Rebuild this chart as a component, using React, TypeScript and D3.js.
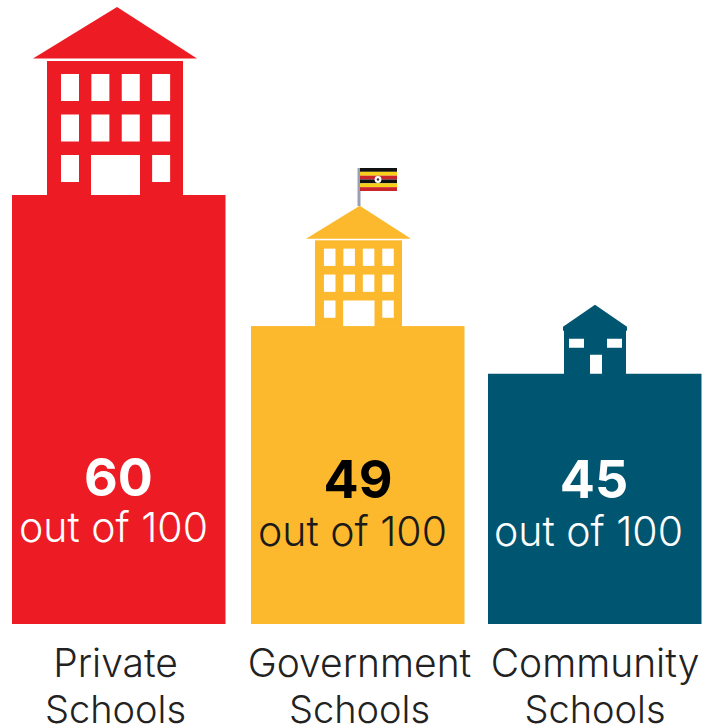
import React, { useEffect, useRef } from "react";
import * as d3 from "d3";

const categories = ["Private", "Government", "Community"];
const scores = [60, 49, 45];
const colors = ["#ED1C24", "#FDB92E", "#005670"];
const scoreColors = ["#ffffff", "#000000", "#ffffff"];
const flagStripes = ["#111111", "#F7D117", "#C9252B", "#111111", "#F7D117", "#C9252B"];

const WIDTH = 703;
const HEIGHT = 728;
const FONT = "Inter, Lato, 'Noto Sans', sans-serif";

const App: React.FC = () => {
  const svgRef = useRef<SVGSVGElement | null>(null);

  useEffect(() => {
    const svg = d3.select(svgRef.current);
    svg.selectAll("*").remove();

    // gaps between the bars are not quite even in the original
    const x = d3.scaleOrdinal<string, number>().domain(categories).range([12, 251, 488]);
    const barWidth = 213.5;
    // bars do not start at zero in the original, baseline sits around 24
    const y = d3.scaleLinear().domain([24, 60]).range([624, 195]);

    const rows = categories.map((name, i) => ({ name, score: scores[i], color: colors[i], scoreColor: scoreColors[i] }));

    svg
      .selectAll("rect.bar")
      .data(rows)
      .enter()
      .append("rect")
      .attr("class", "bar")
      .attr("x", (d) => x(d.name))
      .attr("y", (d) => y(d.score))
      .attr("width", barWidth)
      .attr("height", (d) => y(24) - y(d.score))
      .attr("fill", (d) => d.color);

    // big school icon, drawn at 136 wide and scaled down for government
    const drawSchool = (cx: number, base: number, k: number, color: string) => {
      const g = svg.append("g").attr("transform", `translate(${cx},${base}) scale(${k})`);
      g.append("path").attr("d", "M-82,-136.5L2,-188L82,-136.5Z").attr("fill", color);
      g.append("rect").attr("x", -68).attr("y", -134).attr("width", 136).attr("height", 135).attr("fill", color);
      const cols = d3.scaleBand<number>().domain([0, 1, 2, 3]).range([-54, 67.5]);
      const floors = d3.scaleBand<number>().domain([0, 1, 2]).range([-121, 0.5]);
      const cells = d3.cross([0, 1, 2, 3], [0, 1, 2]).filter(([c, f]) => !(f === 2 && (c === 1 || c === 2)));
      g.selectAll("rect.win")
        .data(cells)
        .enter()
        .append("rect")
        .attr("class", "win")
        .attr("x", ([c]) => cols(c)!)
        .attr("y", ([, f]) => floors(f)!)
        .attr("width", 18)
        .attr("height", 27)
        .attr("fill", "#fff");
      g.append("rect").attr("x", -24).attr("y", -40).attr("width", 49).attr("height", 40).attr("fill", "#fff");
    };

    drawSchool(115, y(60), 1, colors[0]);
    drawSchool(358.5, y(49), 0.64, colors[1]);

    // flag on the government school
    const flag = svg.append("g").attr("transform", "translate(359,168)");
    flag.append("rect").attr("x", -1.5).attr("width", 3).attr("height", 38).attr("fill", "#9AA0B4");
    const stripe = d3.scaleBand<number>().domain(d3.range(flagStripes.length)).range([0, 23]);
    flag
      .selectAll("rect.stripe")
      .data(flagStripes)
      .enter()
      .append("rect")
      .attr("class", "stripe")
      .attr("x", 1)
      .attr("y", (_, i) => stripe(i)!)
      .attr("width", 37)
      .attr("height", stripe.bandwidth())
      .attr("fill", (d) => d);
    flag.append("circle").attr("cx", 19).attr("cy", 11.5).attr("r", 3.4).attr("fill", "#fff");
    flag.append("circle").attr("cx", 19).attr("cy", 11.5).attr("r", 1.2).attr("fill", "#333");

    // small community house
    const house = svg.append("g").attr("transform", `translate(595,${y(45)})`);
    house
      .append("path")
      .attr("d", "M-32,-47L0,-69L32,-47L32,-43L31,-43L31,1L-31,1L-31,-43L-32,-43Z")
      .attr("fill", colors[2]);
    house.append("rect").attr("x", -26).attr("y", -35).attr("width", 15).attr("height", 9).attr("fill", "#fff");
    house.append("rect").attr("x", 12).attr("y", -35).attr("width", 15).attr("height", 9).attr("fill", "#fff");
    house.append("rect").attr("x", -5).attr("y", -19).attr("width", 12).attr("height", 19).attr("fill", "#fff");

    // text
    const text = svg.append("g").attr("font-family", FONT).attr("text-anchor", "middle");
    const scoreX = [118.5, 358, 594];
    const scoreY = [496, 498, 498];
    const subY = [542, 546, 546];
    const subX = [113.5, 352.5, 588.5];

    text
      .selectAll("text.score")
      .data(rows)
      .enter()
      .append("text")
      .attr("class", "score")
      .attr("x", (_, i) => scoreX[i])
      .attr("y", (_, i) => scoreY[i])
      .attr("font-size", 52)
      .attr("font-weight", 700)
      .attr("fill", (d) => d.scoreColor)
      .text((d) => d.score);

    text
      .selectAll("text.sub")
      .data(rows)
      .enter()
      .append("text")
      .attr("class", "sub")
      .attr("x", (_, i) => subX[i])
      .attr("y", (_, i) => subY[i])
      .attr("font-size", 41)
      .attr("font-weight", 300)
      .attr("fill", (d) => (d.scoreColor === "#000000" ? "#1a1a1a" : "#fff"))
      .text("out of 100");

    const labelX = [115.5, 359.5, 595];
    text
      .selectAll("text.name")
      .data(rows)
      .enter()
      .append("text")
      .attr("class", "name")
      .attr("x", (_, i) => labelX[i])
      .attr("y", 677)
      .attr("font-size", 39)
      .attr("font-weight", 300)
      .attr("fill", "#222")
      .text((d) => d.name);

    text
      .selectAll("text.schools")
      .data(rows)
      .enter()
      .append("text")
      .attr("class", "schools")
      .attr("x", (_, i) => labelX[i])
      .attr("y", 723)
      .attr("font-size", 38)
      .attr("font-weight", 300)
      .attr("fill", "#222")
      .text("Schools");
  }, []);

  return (
    <svg
      ref={svgRef}
      width={WIDTH}
      height={HEIGHT}
      style={{ position: "absolute", left: 0, top: 0, background: "#fff" }}
    />
  );
};

export default App;
